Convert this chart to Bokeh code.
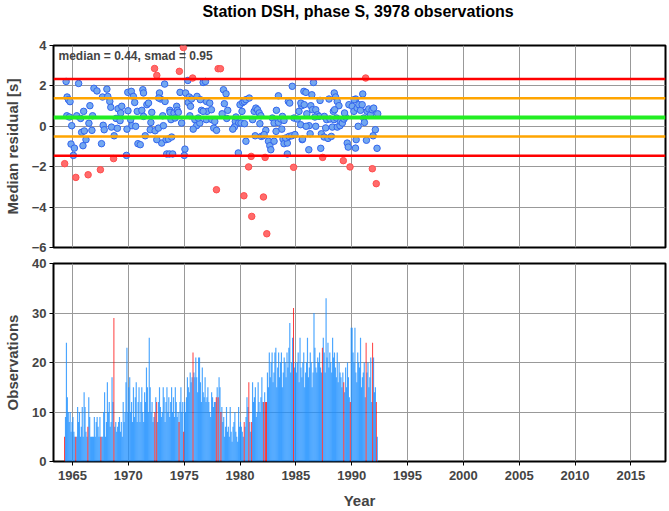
import math
from bokeh.plotting import figure
from bokeh.layouts import column
from bokeh.models import Range1d, Span, Label, FixedTicker, Div
from bokeh.embed import file_html
from bokeh.resources import INLINE

title_text = "Station DSH, phase S, 3978 observations"
median = 0.44
smad = 0.95

# monthly median residuals (decimal year, seconds)
res_year = [
    1964.30, 1964.43, 1964.52, 1964.64, 1964.78, 1964.49, 1964.72, 1964.93, 1964.87, 1965.17,
    1965.08, 1965.30, 1965.55, 1965.38, 1965.73, 1965.82, 1966.06, 1966.00, 1966.21, 1965.94,
    1966.40, 1966.56, 1966.47, 1966.80, 1966.74, 1966.92, 1967.19, 1967.50, 1967.60, 1967.69,
    1968.08, 1968.16, 1967.75, 1967.84, 1968.34, 1968.43, 1968.49, 1968.68, 1968.73, 1968.90,
    1969.02, 1969.08, 1969.26, 1969.41, 1969.32, 1969.83, 1969.88, 1969.97, 1970.21, 1969.95,
    1970.27, 1970.45, 1970.57, 1970.33, 1970.80, 1970.66, 1970.86,
    1971.30, 1971.36, 1971.21, 1972.10, 1971.07, 1971.51, 1971.96, 1972.40, 1972.70, 1971.66,
    1971.81, 1972.02, 1972.35, 1972.55, 1972.79, 1972.90, 1972.72, 1973.29, 1973.08, 1973.14,
    1972.99, 1973.38, 1973.59, 1973.88, 1973.44, 1973.68, 1973.97, 1973.25, 1973.72, 1973.74,
    1974.09, 1974.33, 1974.39, 1974.48, 1973.82, 1974.18, 1974.57, 1974.63, 1974.93, 1975.13,
    1975.37, 1975.46, 1975.57, 1975.66, 1975.07, 1975.01, 1975.33, 1975.51, 1975.76, 1975.96,
    1976.11, 1976.40, 1976.70, 1976.91, 1976.15, 1976.45, 1976.55, 1977.00, 1977.05, 1977.29,
    1977.44, 1976.70, 1976.98, 1977.48, 1977.74, 1977.65, 1977.90, 1977.89, 1978.04, 1978.25,
    1975.81, 1976.26, 1974.77, 1972.55, 1971.36,
    1978.52, 1978.75, 1978.60, 1978.90, 1978.40, 1978.81, 1979.58, 1979.64, 1980.00, 1980.24,
    1980.35, 1980.38, 1980.53, 1980.83, 1980.18, 1979.88, 1980.09, 1980.40, 1979.49, 1979.35,
    1980.53, 1979.85, 1980.77, 1981.00, 1981.05, 1981.13, 1981.27, 1981.42, 1981.57, 1981.72,
    1981.87, 1981.36, 1981.90, 1982.07, 1982.10, 1982.25, 1982.31, 1981.78, 1982.16, 1982.40,
    1982.55, 1982.67, 1982.76, 1983.05, 1982.90, 1983.26, 1983.44, 1983.05, 1983.44, 1983.65,
    1983.80, 1983.94, 1983.74, 1983.23, 1983.85, 1983.94, 1984.24, 1984.09, 1984.39, 1984.63,
    1984.80, 1984.92, 1984.24, 1984.33, 1984.45, 1984.68, 1984.83, 1985.13, 1985.28, 1985.52,
    1985.43, 1985.57, 1985.72,
    1986.58, 1985.90, 1986.43, 1985.45, 1985.75, 1986.34, 1986.49, 1986.78, 1985.98, 1986.93,
    1987.08, 1987.17, 1986.70, 1986.19, 1985.92, 1986.78, 1986.28, 1985.60, 1986.16, 1987.23,
    1987.29, 1987.40, 1987.53, 1987.88, 1988.18, 1987.67, 1988.27, 1988.71, 1988.95, 1987.55,
    1987.76, 1988.06, 1988.42, 1988.65, 1987.97, 1988.44, 1988.56, 1988.71, 1988.86, 1988.36,
    1988.47, 1989.01, 1989.16, 1989.25, 1989.31, 1989.45, 1989.36, 1989.60, 1989.69, 1989.85,
    1990.34, 1990.40, 1989.75, 1990.05, 1990.20, 1990.36, 1990.49, 1990.64, 1990.79, 1990.94,
    1991.08, 1991.14, 1991.25, 1991.38, 1991.53, 1991.68, 1991.85, 1991.83, 1991.97, 1992.20,
    1992.33, 1990.58, 1990.99, 1991.32, 1992.12, 1991.92, 1992.27, 1990.22,
]
res_value = [
    -1.85, 2.22, 1.45, 1.32, 1.22, 0.52, 0.46, 0.03, -0.88, -1.08,
    -1.44, -2.53, 2.12, 0.52, 0.39, -0.30, -0.23, 0.74, -0.66, -0.96,
    -2.40, 1.02, 0.15, 0.52, -0.20, 1.88, 1.75, -2.15, -0.86, 1.45,
    1.84, 1.48, 0.05, -0.17, 1.23, 0.94, -0.04, -1.60, -0.47, 0.39,
    -0.10, 0.87, 0.28, 0.99, 0.66, -1.44, -0.14, 0.77, 0.33, 1.68,
    1.73, 1.48, 1.18, 0.03, 0.74, 0.00, -0.86,
    1.81, 1.65, 0.79, 0.69, -0.91, -0.47, -0.17, -0.22, -0.09, 1.07,
    1.15, 0.19, 2.86, 2.52, 1.65, 1.35, 1.40, 1.23, 0.52, 0.03,
    -0.83, -0.66, -0.63, -0.53, -1.37, -1.37, -1.37, 2.09, 0.79, 0.69,
    0.66, 0.99, 0.79, 0.69, 0.33, 0.41, 2.72, 1.68, 3.90, 1.65,
    1.18, 1.45, 0.99, 1.35, -1.13, -1.44, 2.27, 0.52, 2.39, 0.33,
    0.03, 0.16, 2.17, 2.22, 1.48, 1.32, 0.79, 1.23, 0.74, 1.15,
    0.82, 0.74, 0.33, 0.33, 0.24, -0.09, -0.20, -3.14, 2.85, 2.85,
    -0.14, 0.41, 0.16, -0.66, 0.49,
    1.81, 1.61, 1.12, 0.79, 0.62, 0.39, 0.24, 0.46, 1.07, 1.18,
    -3.44, 1.23, 1.32, 1.40, 0.74, 0.16, 0.16, 0.13, -0.04, -0.14,
    -0.74, -1.32, -2.01, -1.49, -4.46, 0.33, 0.74, 0.90, 0.82, 0.66,
    0.52, -0.47, -0.50, -0.47, -3.50, -1.54, -0.20, 0.13, -0.41, -5.32,
    -0.74, -0.96, -1.16, -0.74, 0.41, 0.79, 1.51, 0.16, 0.19, 0.36,
    0.49, 0.29, -0.14, -0.25, -0.63, -0.86, -0.83, -0.58, -0.50, -0.47,
    -2.03, -0.41, -1.37, 1.23, 1.15, 1.98, 0.41, 0.36, 0.74, 1.02,
    0.08, -0.66, 1.73,
    2.17, 1.68, 1.56, 1.15, 1.07, 1.02, 0.82, 0.82, 0.62, 0.57,
    0.49, 1.28, 0.46, 0.03, 0.00, 0.00, -0.37, -0.63, -1.16, -1.09,
    -0.37, -1.54, -0.53, -0.60, -0.50, -0.08, -0.04, -0.04, 0.03, 0.49,
    0.33, 0.36, 0.33, 0.41, 1.35, 1.65, 1.45, 1.23, 1.02, 0.74,
    0.82, 0.24, 0.16, -1.70, 0.36, 0.46, 0.66, -0.83, -1.03, -2.01,
    -1.08, -0.66, 1.07, 0.99, 0.74, 1.35, 0.90, 1.07, 0.79, 1.07,
    0.41, 0.19, 2.39, 0.74, 0.86, 0.57, -2.10, 0.82, 0.90, -2.84,
    0.62, 0.00, 1.60, -0.69, -0.17, -0.47, -1.09, 1.32,
]

# number of observations per month, one row per year starting in 1964
first_year = 1964
monthly_counts = [
    [0, 0, 0, 5, 9, 24, 13, 10, 8, 10, 6, 8],          # 1964
    [9, 6, 5, 5, 5, 11, 8, 10, 5, 7, 11, 5],           # 1965
    [14, 11, 6, 5, 7, 13, 9, 5, 5, 5, 5, 9],           # 1966
    [5, 8, 9, 7, 5, 9, 5, 5, 5, 10, 14, 5],            # 1967
    [8, 16, 10, 12, 7, 8, 17, 12, 29, 7, 8, 6],        # 1968
    [7, 8, 9, 6, 8, 5, 12, 8, 10, 16, 23, 10],         # 1969
    [15, 17, 10, 12, 8, 15, 9, 13, 16, 8, 12, 15],     # 1970
    [8, 12, 15, 10, 8, 14, 12, 19, 15, 10, 25, 15],    # 1971
    [10, 12, 8, 9, 10, 13, 12, 8, 12, 15, 11, 9],      # 1972
    [10, 15, 13, 8, 12, 15, 10, 13, 9, 12, 15, 10],    # 1973
    [13, 9, 15, 12, 9, 10, 8, 12, 15, 10, 12, 6],      # 1974
    [12, 10, 13, 17, 15, 14, 18, 16, 17, 22, 18, 17],  # 1975
    [21, 17, 14, 21, 21, 16, 12, 19, 14, 13, 17, 12],  # 1976
    [13, 15, 12, 10, 9, 14, 13, 11, 12, 12, 13, 15],   # 1977
    [13, 17, 15, 10, 11, 8, 9, 5, 7, 11, 6, 7],        # 1978
    [5, 11, 6, 4, 7, 8, 10, 6, 5, 4, 11, 7],           # 1979
    [8, 7, 6, 5, 8, 7, 9, 13, 11, 16, 8, 6],           # 1980
    [8, 16, 12, 13, 15, 9, 10, 16, 12, 10, 13, 17],    # 1981
    [12, 12, 14, 12, 12, 18, 15, 22, 17, 20, 22, 16],  # 1982
    [18, 22, 23, 15, 19, 22, 17, 20, 22, 15, 18, 21],  # 1983
    [20, 17, 22, 19, 23, 28, 18, 20, 25, 31, 19, 20],  # 1984
    [18, 20, 22, 16, 25, 19, 17, 20, 22, 15, 18, 20],  # 1985
    [25, 17, 19, 22, 20, 15, 18, 30, 23, 19, 18, 21],  # 1986
    [20, 22, 19, 18, 23, 25, 22, 18, 33, 21, 24, 19],  # 1987
    [22, 20, 18, 25, 21, 22, 19, 17, 22, 16, 20, 18],  # 1988
    [17, 15, 18, 16, 14, 19, 15, 20, 17, 13, 12, 27],  # 1989
    [27, 22, 20, 27, 18, 16, 22, 20, 19, 25, 15, 17],  # 1990
    [18, 20, 13, 24, 18, 20, 15, 17, 21, 12, 24, 21],  # 1991
    [14, 15, 12, 5],                                   # 1992
]

x_ticks = [1965, 1970, 1975, 1980, 1985, 1990, 1995, 2000, 2005, 2010, 2015]
res_ticks = [-6, -4, -2, 0, 2, 4]
obs_ticks = [0, 10, 20, 30, 40]

FONT = "Liberation Sans"
x_lo, x_hi = 1963.3, 2018.1
x_range = Range1d(x_lo, x_hi)

lo2, hi2 = median - 2 * smad, median + 2 * smad
lo1, hi1 = median - smad, median + smad

# ---------- title ----------
title_div = Div(text=title_text, width=669, height=30, margin=(0, 0, 0, 0),
                styles={"font-family": FONT, "font-size": "16px", "font-weight": "bold",
                        "text-align": "center", "padding-left": "51px", "padding-right": "4px",
                        "padding-top": "3px", "box-sizing": "border-box", "color": "black",
                        "line-height": "18px"})

# ---------- top panel ----------
p1 = figure(width=669, height=225, x_range=x_range, y_range=Range1d(-6, 4),
            output_backend="svg", toolbar_location=None,
            min_border_left=51, min_border_right=4, min_border_top=15, min_border_bottom=8)

blue_x, blue_y, red_x, red_y = [], [], [], []
for t, v in zip(res_year, res_value):
    if v < lo2 or v > hi2:
        red_x.append(t); red_y.append(v)
    else:
        blue_x.append(t); blue_y.append(v)

for val, col, w in [(lo2, "#ff0000", 2.5), (hi2, "#ff0000", 2.5),
                    (lo1, "#ffa500", 2.5), (hi1, "#ffa500", 2.5),
                    (median, "#22ee22", 4)]:
    p1.add_layout(Span(location=val, dimension="width", line_color=col, line_width=w))

p1.scatter(blue_x, blue_y, size=6.5, fill_color="#73a8f0", line_color="#3366ee", line_width=1)
p1.scatter(red_x, red_y, size=6.5, fill_color="#ff6b6b", line_color="#ff4d4d", line_width=1)

p1.add_layout(Label(x=x_lo, y=4, x_offset=5, y_offset=-3, text=f"median = {median:.2f}, smad = {smad:.2f}",
                    text_font=FONT, text_font_size="12px", text_font_style="bold",
                    text_baseline="top", text_align="left"))

p1.yaxis.axis_label = "Median residual [s]"
p1.yaxis.ticker = FixedTicker(ticks=res_ticks)
p1.xaxis.visible = False

# ---------- bottom panel ----------
p2 = figure(width=669, height=256, x_range=x_range, y_range=Range1d(0, 40),
            output_backend="svg", toolbar_location=None,
            min_border_left=51, min_border_right=4, min_border_top=8, min_border_bottom=48)

red_months = set()
for t in red_x:
    red_months.add(int(math.floor((t - first_year) * 12 + 1e-9)))

bx, bt, rx, rt = [], [], [], []
for yi, row in enumerate(monthly_counts):
    for m, c in enumerate(row):
        if c <= 0:
            continue
        key = yi * 12 + m
        xc = first_year + yi + (m + 0.5) / 12
        if key in red_months:
            rx.append(xc); rt.append(c)
        else:
            bx.append(xc); bt.append(c)

p2.vbar(x=bx, top=bt, width=0.105, fill_color="#1e90ff", fill_alpha=0.8, line_color=None)
p2.vbar(x=rx, top=rt, width=0.085, fill_color="#ff0000", fill_alpha=0.8, line_color=None)

p2.yaxis.axis_label = "Observations"
p2.xaxis.axis_label = "Year"
p2.yaxis.ticker = FixedTicker(ticks=obs_ticks)
p2.xaxis.ticker = FixedTicker(ticks=x_ticks)

for p in (p1, p2):
    p.outline_line_color = "black"
    p.outline_line_width = 2
    p.outline_line_alpha = 1
    p.grid.grid_line_color = "#999999"
    p.grid.grid_line_width = 1
    p.xgrid.ticker = FixedTicker(ticks=x_ticks)
    for ax in p.axis:
        ax.axis_line_color = None
        ax.major_tick_line_color = "black"
        ax.major_tick_out = 4
        ax.major_tick_in = 0
        ax.minor_tick_line_color = None
        ax.major_label_text_font = FONT
        ax.major_label_text_font_style = "bold"
        ax.major_label_text_font_size = "13px"
        ax.axis_label_text_font = FONT
        ax.axis_label_text_font_style = "bold"
        ax.axis_label_text_font_size = "15px"
    for ax in p.yaxis:
        ax.major_label_standoff = 3
        ax.axis_label_standoff = 8
p2.xaxis.major_label_standoff = 5
p2.xaxis.axis_label_standoff = 9

layout = column(title_div, p1, p2, spacing=0)
open("out.html", "w").write(file_html(layout, INLINE))
